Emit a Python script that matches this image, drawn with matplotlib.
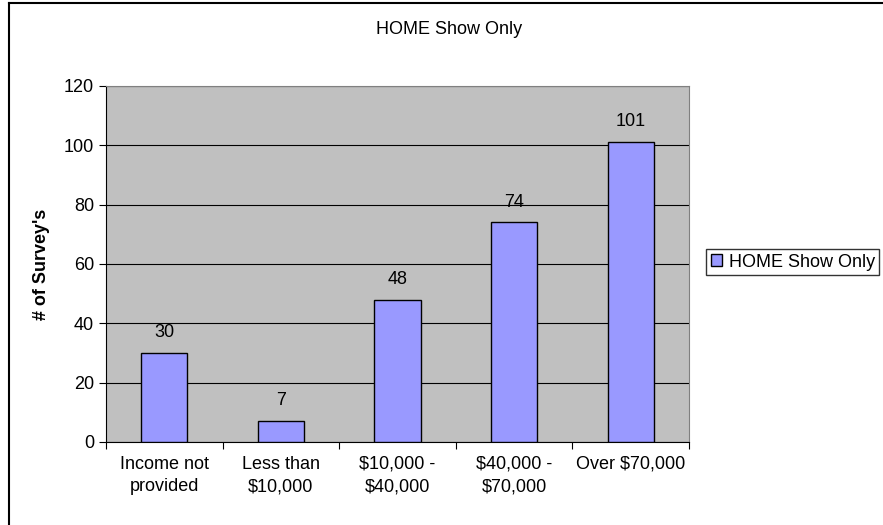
import matplotlib.pyplot as plt
import numpy as np
from matplotlib.lines import Line2D

plt.rcParams['font.family'] = ['Liberation Sans', 'DejaVu Sans']

# data
categories = ['Income not\nprovided', 'Less than\n$10,000', '$10,000 -\n$40,000',
              '$40,000 -\n$70,000', 'Over $70,000']
values = [30, 7, 48, 74, 101]
series_name = 'HOME Show Only'

fs = 13
fig = plt.figure(figsize=(8.83, 5.25), dpi=100)
ax = fig.add_axes([106 / 883, 1 - 442 / 525, (689 - 106) / 883, (442 - 86) / 525])

x = np.arange(len(categories))
ax.bar(x, values, width=0.395, color='#9999FF', edgecolor='black', linewidth=1,
       label=series_name, zorder=3)
for xi, v in zip(x, values):
    ax.text(xi, v + 4, str(v), ha='center', va='bottom', fontsize=fs)

ax.set_facecolor('#C0C0C0')
ax.set_xlim(-0.5, len(categories) - 0.5)
ax.set_ylim(0, 120)
ax.set_yticks(range(0, 121, 20))
ax.yaxis.grid(True, color='black', linewidth=0.8, zorder=0)
ax.set_axisbelow(True)

ax.set_xticks(np.arange(-0.5, len(categories)), minor=False)
ax.set_xticklabels([])
ax.set_xticks(x, minor=True)
ax.set_xticklabels(categories, minor=True, fontsize=fs, linespacing=1.4)
ax.tick_params(axis='x', which='minor', length=0, pad=10)
ax.tick_params(axis='x', which='major', length=5, direction='out')
ax.tick_params(axis='y', length=5, labelsize=fs)

for s in ['top', 'right']:
    ax.spines[s].set_color('#808080')
for s in ['left', 'bottom']:
    ax.spines[s].set_color('black')

ax.set_ylabel("# of Survey's", fontsize=fs, fontweight='bold', labelpad=10)
fig.text(449 / 883, 1 - 30 / 525, 'HOME Show Only', ha='center', va='center', fontsize=fs)

leg = fig.legend(loc='upper left', bbox_to_anchor=(706 / 883, 1 - 249 / 525),
                 fontsize=fs, frameon=True, fancybox=False, borderpad=0.25,
                 handlelength=0.65, handleheight=0.65, handletextpad=0.35,
                 borderaxespad=0)
leg.get_frame().set_edgecolor('black')
leg.get_frame().set_linewidth(1)

# outer chart border
fig.add_artist(Line2D([8.5 / 883, 1], [1 - 2.5 / 525, 1 - 2.5 / 525], color='black',
                      linewidth=1.5, transform=fig.transFigure))
fig.add_artist(Line2D([8.5 / 883, 8.5 / 883], [0, 1 - 2.5 / 525], color='black',
                      linewidth=1.5, transform=fig.transFigure))

fig.savefig('out.png', dpi=100)
